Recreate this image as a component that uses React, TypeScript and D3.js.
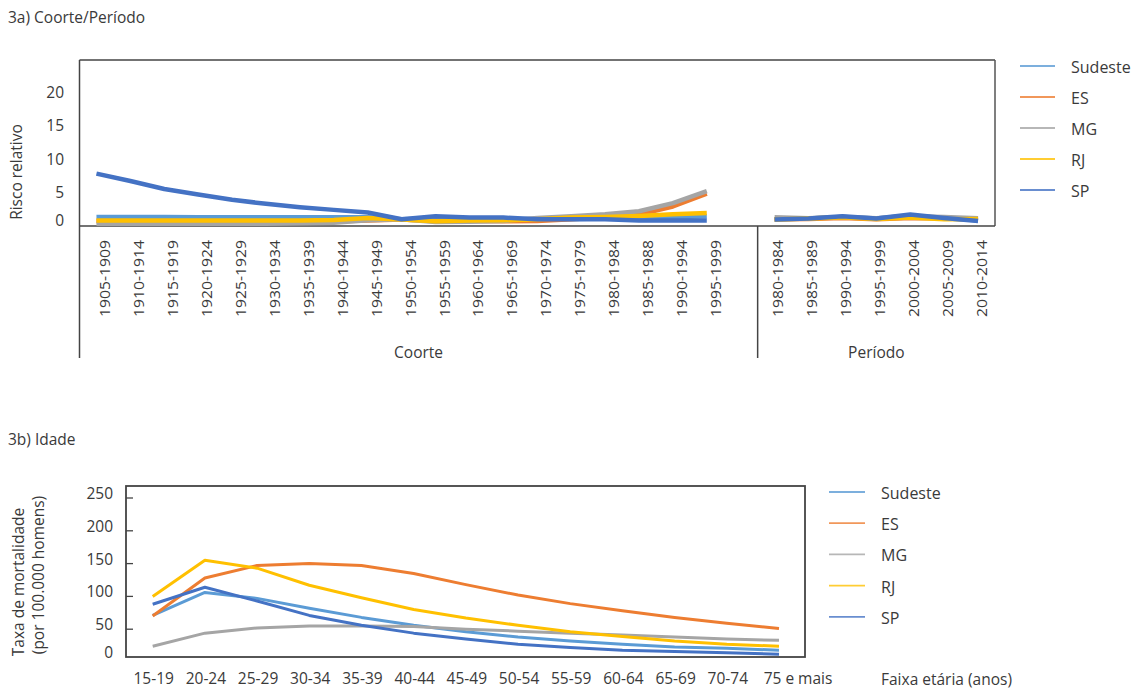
import React from 'react';
import * as d3 from 'd3';

// ---------- data ----------
const seriesNames = ['Sudeste', 'ES', 'MG', 'RJ', 'SP'];
const seriesColors = ['#5B9BD5', '#ED7D31', '#A5A5A5', '#FFC000', '#4472C4'];

const cohortLabels = [
  '1905-1909', '1910-1914', '1915-1919', '1920-1924', '1925-1929', '1930-1934', '1935-1939',
  '1940-1944', '1945-1949', '1950-1954', '1955-1959', '1960-1964', '1965-1969', '1970-1974',
  '1975-1979', '1980-1984', '1985-1988', '1990-1994', '1995-1999',
];
const periodLabels = ['1980-1984', '1985-1989', '1990-1994', '1995-1999', '2000-2004', '2005-2009', '2010-2014'];

// relative risk by cohort
const cohortSudeste = [1.35, 1.35, 1.35, 1.3, 1.3, 1.3, 1.3, 1.3, 1.3, 1.0, 1.1, 1.05, 1.05, 1.0, 1.05, 1.1, 1.1, 1.3, 1.45];
const cohortES = [0.7, 0.7, 0.7, 0.7, 0.7, 0.7, 0.7, 0.7, 0.8, 0.95, 0.75, 0.75, 0.7, 0.75, 1.0, 1.3, 1.7, 2.9, 4.8];
const cohortMG = [0.35, 0.35, 0.35, 0.35, 0.35, 0.35, 0.4, 0.5, 0.85, 1.0, 0.6, 0.65, 0.75, 1.2, 1.45, 1.75, 2.2, 3.4, 5.2];
const cohortRJ = [0.8, 0.8, 0.8, 0.8, 0.8, 0.8, 0.8, 0.9, 1.2, 0.95, 0.7, 0.8, 0.85, 1.0, 1.25, 1.35, 1.5, 1.75, 1.95];
const cohortSP = [7.8, 6.7, 5.5, 4.7, 3.9, 3.3, 2.8, 2.4, 2.0, 1.0, 1.45, 1.25, 1.25, 1.0, 1.0, 1.0, 0.8, 0.8, 0.8];

// relative risk by period
const periodSudeste = [1.0, 1.1, 1.35, 1.1, 1.55, 1.15, 0.85];
const periodES = [1.0, 1.05, 1.2, 1.0, 1.2, 1.1, 1.0];
const periodMG = [1.3, 1.15, 1.35, 1.15, 1.45, 1.35, 1.15];
const periodRJ = [0.95, 1.1, 1.3, 1.05, 1.25, 1.0, 1.05];
const periodSP = [0.95, 1.1, 1.45, 1.1, 1.7, 1.2, 0.75];

const topTicks = [0, 5, 10, 15, 20];

// mortality rate by age
const ageLabels = ['15-19', '20-24', '25-29', '30-34', '35-39', '40-44', '45-49', '50-54', '55-59', '60-64', '65-69', '70-74', '75 e mais'];
const ageSudeste = [71, 106, 97, 82, 68, 56, 46, 38, 32, 27, 23, 21, 18];
const ageES = [70, 128, 147, 150, 147, 135, 118, 102, 89, 78, 68, 59, 51];
const ageMG = [24, 44, 52, 55, 55, 54, 50, 47, 44, 41, 38, 35, 33];
const ageRJ = [100, 155, 143, 117, 98, 80, 67, 56, 46, 39, 32, 27, 24];
const ageSP = [88, 114, 93, 71, 56, 44, 35, 27, 22, 18, 16, 14, 12];
const bottomTicks = [0, 50, 100, 150, 200, 250];

const cohortSeries = [cohortSudeste, cohortES, cohortMG, cohortRJ, cohortSP];
const periodSeries = [periodSudeste, periodES, periodMG, periodRJ, periodSP];
const ageSeries = [ageSudeste, ageES, ageMG, ageRJ, ageSP];

const FONT = "'Open Sans', 'Noto Sans', sans-serif";
const TXT = '#3a3a3a';

export default function App() {
  // ---------- top chart scales ----------
  const cohortKeys = cohortLabels.map((c) => 'C:' + c);
  const periodKeys = periodLabels.map((p) => 'P:' + p);
  const allKeys = [...cohortKeys, 'gap', ...periodKeys];
  const xTop = d3.scaleBand<string>().domain(allKeys).range([79.5, 995]);
  const cx = (k: string) => (xTop(k) as number) + xTop.bandwidth() / 2;
  const yTop = d3.scaleLinear().domain([0, 24.7]).range([226, 60]);
  const topFrame = { l: 79.5, r: 995, t: 60, b: 226 };
  const divX = xTop(periodKeys[0]) as number;

  const lineTop = d3
    .line<[string, number]>()
    .x((d) => cx(d[0]))
    .y((d) => yTop(d[1]));

  // ---------- bottom chart scales ----------
  const xBot = d3.scalePoint<string>().domain(ageLabels).range([152.7, 779]);
  const yBot = d3.scaleLinear().domain([0, 250]).range([662, 498]);
  const botFrame = { l: 126, r: 805, t: 486, b: 657 };
  const lineBot = d3
    .line<[string, number]>()
    .x((d) => xBot(d[0]) as number)
    .y((d) => yBot(d[1]));

  return (
    <svg width={1135} height={689} style={{ display: 'block', position: 'absolute', left: 0, top: 0 }} fontFamily={FONT}>
      <rect x={0} y={0} width={1135} height={689} fill="#fff" />

      {/* ===== Chart 3a ===== */}
      <text x={8} y={17} fontSize={15.5} fill={TXT} dominantBaseline="central">3a) Coorte/Período</text>

      {/* frame */}
      <line x1={topFrame.l} x2={topFrame.r} y1={topFrame.t} y2={topFrame.t} stroke="#444" strokeWidth={1.5} />
      <line x1={topFrame.r} x2={topFrame.r} y1={topFrame.t} y2={topFrame.b} stroke="#555" strokeWidth={1.5} />
      <line x1={topFrame.l} x2={topFrame.r} y1={topFrame.b} y2={topFrame.b} stroke="#444" strokeWidth={1.5} />
      <line x1={topFrame.l} x2={topFrame.l} y1={topFrame.t} y2={358} stroke="#444" strokeWidth={1.5} />
      <line x1={divX} x2={divX} y1={topFrame.b} y2={358} stroke="#444" strokeWidth={1.5} />

      {/* y ticks */}
      {topTicks.map((t) => (
        <text key={t} x={64} y={t === 0 ? yTop(t) - 6 : yTop(t)} fontSize={15.5} fill={TXT} textAnchor="end" dominantBaseline="central">
          {t}
        </text>
      ))}
      <text
        transform={`translate(16, 172) rotate(-90)`}
        fontSize={15.5}
        fill={TXT}
        textAnchor="middle"
        dominantBaseline="central"
      >
        Risco relativo
      </text>

      {/* category labels */}
      {cohortKeys.map((k, i) => (
        <text
          key={k}
          transform={`translate(${cx(k) + 8}, 240) rotate(-90)`}
          fontSize={15}
          fill={TXT}
          textAnchor="end"
          dominantBaseline="central"
          textLength={77}
          lengthAdjust="spacingAndGlyphs"
        >
          {cohortLabels[i]}
        </text>
      ))}
      {periodKeys.map((k, i) => (
        <text
          key={k}
          transform={`translate(${cx(k) + 2.5}, 240) rotate(-90)`}
          fontSize={15}
          fill={TXT}
          textAnchor="end"
          dominantBaseline="central"
          textLength={77}
          lengthAdjust="spacingAndGlyphs"
        >
          {periodLabels[i]}
        </text>
      ))}
      <text x={(topFrame.l + divX) / 2} y={352} fontSize={15.5} fill={TXT} textAnchor="middle" dominantBaseline="central">
        Coorte
      </text>
      <text x={(divX + topFrame.r) / 2} y={352} fontSize={15.5} fill={TXT} textAnchor="middle" dominantBaseline="central">
        Período
      </text>

      {/* lines */}
      {seriesNames.map((s, si) => (
        <g key={s}>
          <path
            d={lineTop(cohortKeys.map((k, i) => [k, cohortSeries[si][i]] as [string, number])) as string}
            fill="none"
            stroke={seriesColors[si]}
            strokeWidth={4.5}
            strokeLinejoin="round"
          />
          <path
            d={lineTop(periodKeys.map((k, i) => [k, periodSeries[si][i]] as [string, number])) as string}
            fill="none"
            stroke={seriesColors[si]}
            strokeWidth={4.5}
            strokeLinejoin="round"
          />
        </g>
      ))}

      {/* legend */}
      {seriesNames.map((s, si) => (
        <g key={s} transform={`translate(0, ${66 + si * 31})`}>
          <line x1={1020} x2={1055} y1={0} y2={0} stroke={seriesColors[si]} strokeWidth={1.8} strokeOpacity={0.8} />
          <text x={1071} y={1} fontSize={16} fill={TXT} dominantBaseline="central">{s}</text>
        </g>
      ))}

      {/* ===== Chart 3b ===== */}
      <text x={8} y={439} fontSize={15.5} fill={TXT} dominantBaseline="central">3b) Idade</text>

      <rect
        x={botFrame.l}
        y={botFrame.t}
        width={botFrame.r - botFrame.l}
        height={botFrame.b - botFrame.t}
        fill="none"
        stroke="#444"
        strokeWidth={1.8}
      />
      {bottomTicks.map((t) => (
        <g key={t}>
          {t > 0 && <line x1={botFrame.l} x2={botFrame.l + 7} y1={yBot(t)} y2={yBot(t)} stroke="#444" strokeWidth={1.3} />}
          <text
            x={113}
            y={Math.min(yBot(t) - 5, botFrame.b - 5)}
            fontSize={15.5}
            fill={TXT}
            textAnchor="end"
            dominantBaseline="central"
          >
            {t}
          </text>
        </g>
      ))}
      <text transform={`translate(18, 582) rotate(-90)`} fontSize={15.5} fill={TXT} textAnchor="middle" dominantBaseline="central">
        Taxa de mortalidade
      </text>
      <text transform={`translate(38, 575) rotate(-90)`} fontSize={15.5} fill={TXT} textAnchor="middle" dominantBaseline="central">
        (por 100.000 homens)
      </text>

      {ageLabels.map((a, i) => (
        <text
          key={a}
          x={(xBot(a) as number) + (i === ageLabels.length - 1 ? 19 : 1)}
          y={678}
          fontSize={15.5}
          fill={TXT}
          textAnchor="middle"
          dominantBaseline="central"
        >
          {a}
        </text>
      ))}
      <text x={881} y={679} fontSize={15.5} fill={TXT} dominantBaseline="central">Faixa etária (anos)</text>

      {seriesNames.map((s, si) => (
        <path
          key={s}
          d={lineBot(ageLabels.map((a, i) => [a, ageSeries[si][i]] as [string, number])) as string}
          fill="none"
          stroke={seriesColors[si]}
          strokeWidth={3}
          strokeLinejoin="round"
        />
      ))}

      {seriesNames.map((s, si) => (
        <g key={s} transform={`translate(0, ${492 + si * 31.2})`}>
          <line x1={829} x2={865} y1={0} y2={0} stroke={seriesColors[si]} strokeWidth={1.8} strokeOpacity={0.8} />
          <text x={881} y={1} fontSize={16} fill={TXT} dominantBaseline="central">{s}</text>
        </g>
      ))}
    </svg>
  );
}
